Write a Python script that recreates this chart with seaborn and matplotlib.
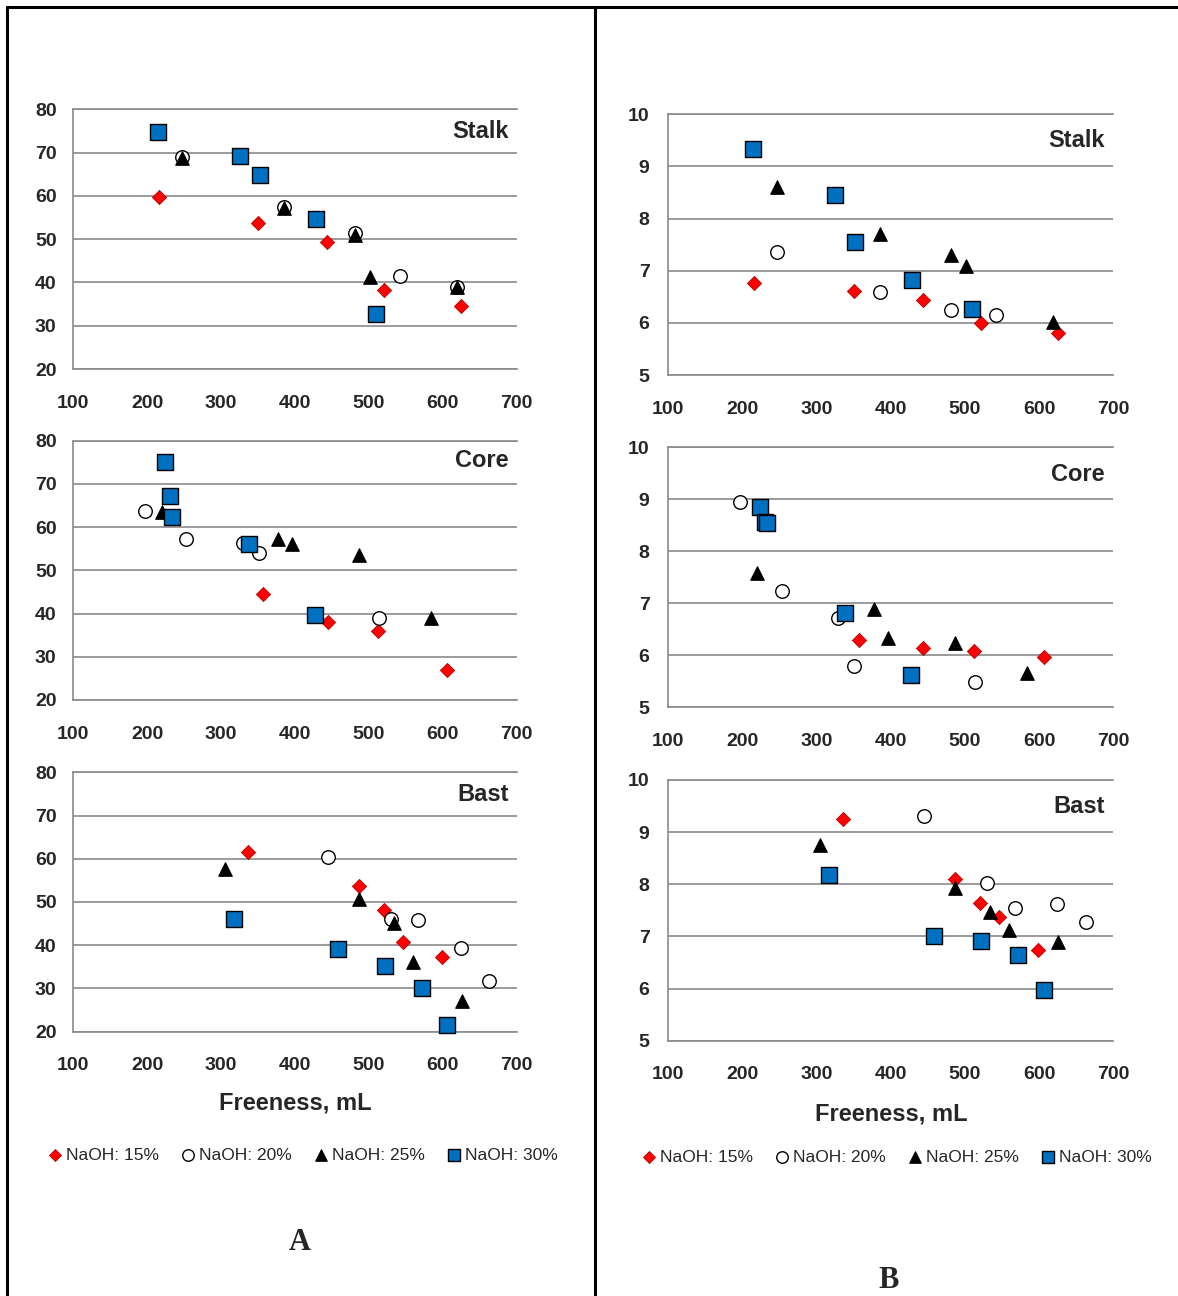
import matplotlib
matplotlib.use("Agg")
import matplotlib.pyplot as plt
from matplotlib.ticker import MultipleLocator
import seaborn as sns
import pandas as pd

# ---------------------------------------------------------------- data
naoh_labels = ["NaOH: 15%", "NaOH: 20%", "NaOH: 25%", "NaOH: 30%"]
materials = ["Stalk", "Core", "Bast"]

# freeness (mL) for each NaOH charge, shared by both property panels
stalk_freeness = [[216, 350, 443, 521, 625],
                  [247, 385, 481, 542, 619],
                  [247, 385, 481, 502, 619],
                  [214, 325, 352, 429, 509]]
core_freeness = [[357, 444, 512, 606],
                 [197, 253, 329, 351, 514],
                 [220, 377, 396, 486, 584],
                 [224, 231, 233, 338, 427]]
bast_freeness = [[336, 486, 520, 546, 599],
                 [445, 530, 567, 624, 663],
                 [305, 486, 534, 560, 626],
                 [317, 458, 522, 572, 606]]

# property shown in column A (scale 20-80)
stalk_a = [[59.8, 53.8, 49.3, 38.3, 34.5],
           [69.0, 57.4, 51.5, 41.5, 38.9],
           [68.8, 57.2, 51.0, 41.2, 39.0],
           [74.7, 69.1, 64.8, 54.6, 32.7]]
core_a = [[44.6, 38.1, 35.9, 27.0],
          [63.7, 57.3, 56.3, 53.9, 39.0],
          [63.6, 57.3, 56.1, 53.6, 38.9],
          [75.1, 67.3, 62.3, 56.1, 39.7]]
bast_a = [[61.6, 53.6, 48.1, 40.7, 37.3],
          [60.5, 46.1, 45.8, 39.4, 31.7],
          [57.6, 50.7, 45.1, 36.1, 27.1],
          [46.1, 39.1, 35.1, 30.2, 21.5]]

# property shown in column B (scale 5-10); the stalk 20% series has 4 points here
stalk_b = [[6.76, 6.61, 6.43, 6.00, 5.80],
           [7.35, 6.59, 6.24, 6.15],
           [8.60, 7.70, 7.30, 7.10, 6.02],
           [9.33, 8.45, 7.56, 6.83, 6.27]]
core_b = [[6.29, 6.15, 6.08, 5.96],
          [8.94, 7.23, 6.72, 5.79, 5.49],
          [7.58, 6.90, 6.33, 6.24, 5.66],
          [8.86, 8.56, 8.54, 6.81, 5.62]]
bast_b = [[9.26, 8.11, 7.64, 7.37, 6.74],
          [9.30, 8.02, 7.55, 7.62, 7.27],
          [8.75, 7.92, 7.46, 7.13, 6.90],
          [8.17, 7.00, 6.92, 6.65, 5.97]]

# ---------------------------------------------------------------- style
sns.set_style("white")
plt.rcParams["font.family"] = ["Liberation Sans", "DejaVu Sans"]

W, H = 1178, 1296
fig = plt.figure(figsize=(W / 100, H / 100), dpi=100)

GRID = "#8a8a8a"
series_style = [
    dict(marker="D", color="#ff0000", edgecolor="#b00000", s=52, linewidth=0.6),
    dict(marker="o", color="white", edgecolor="black", s=95, linewidth=1.0),
    dict(marker="^", color="black", edgecolor="black", s=95, linewidth=0.8),
    dict(marker="s", color="#0070c0", edgecolor="black", s=120, linewidth=1.0),
]


def make_frame(freeness, values):
    rows = []
    for lab, xs, ys in zip(naoh_labels, freeness, values):
        for x, y in zip(xs, ys):
            rows.append({"freeness": x, "value": y, "naoh": lab})
    return pd.DataFrame(rows)


def panel(box, freeness, values, name, ylim, ymajor, label_pos, ypad):
    left, top, right, bottom = box
    ax = fig.add_axes([left / W, 1 - bottom / H, (right - left) / W, (bottom - top) / H])
    df = make_frame(freeness, values)
    for lab, st in zip(naoh_labels, series_style):
        sub = df[df["naoh"] == lab]
        sns.scatterplot(data=sub, x="freeness", y="value", ax=ax, label=lab,
                        zorder=3, clip_on=False, **st)
    if ax.get_legend() is not None:
        ax.get_legend().remove()
    ax.set_xlim(100, 700)
    ax.set_ylim(*ylim)
    ax.xaxis.set_major_locator(MultipleLocator(100))
    ax.xaxis.set_minor_locator(MultipleLocator(50))
    ax.yaxis.set_major_locator(MultipleLocator(ymajor))
    ax.yaxis.set_minor_locator(MultipleLocator(ymajor / 2))
    ax.yaxis.grid(True, which="major", color=GRID, linewidth=1.2)
    ax.set_axisbelow(True)
    for side in ("left", "bottom", "top"):
        ax.spines[side].set_color(GRID)
        ax.spines[side].set_linewidth(1.2)
    ax.spines["right"].set_visible(False)
    ax.tick_params(axis="x", which="major", direction="inout", length=12, width=1.2,
                   color=GRID, pad=12.5, labelsize=14)
    ax.tick_params(axis="x", which="minor", direction="out", length=4, width=1.2, color=GRID)
    ax.tick_params(axis="y", which="major", direction="out", length=6, width=1.2,
                   color=GRID, pad=ypad, labelsize=14)
    ax.tick_params(axis="y", which="minor", direction="out", length=4, width=1.2, color=GRID)
    for t in ax.get_xticklabels() + ax.get_yticklabels():
        t.set_fontweight("bold")
    ax.set_xlabel("")
    ax.set_ylabel("")
    ax.text(label_pos[0], label_pos[1], name, transform=ax.transAxes, ha="right",
            va="center", fontsize=17, fontweight="bold")
    return ax


a_boxes = [(73.3, 109.3, 516.7, 369.0), (73.3, 440.7, 516.7, 700.0), (73.3, 772.3, 516.7, 1031.7)]
b_boxes = [(668.3, 114.3, 1113.3, 375.0), (668.3, 447.3, 1113.3, 707.3), (668.3, 780.0, 1113.3, 1040.7)]
all_freeness = [stalk_freeness, core_freeness, bast_freeness]
a_values = [stalk_a, core_a, bast_a]
b_values = [stalk_b, core_b, bast_b]
a_label_y = [0.916, 0.923, 0.916]
b_label_y = [0.898, 0.894, 0.900]

axes_a = []
for box, fr, vals, name, ly in zip(a_boxes, all_freeness, a_values, materials, a_label_y):
    axes_a.append(panel(box, fr, vals, name, (20, 80), 10, (0.982, ly), 6))
axes_b = []
for box, fr, vals, name, ly in zip(b_boxes, all_freeness, b_values, materials, b_label_y):
    axes_b.append(panel(box, fr, vals, name, (5, 10), 1, (0.98, ly), 7.5))

# axis titles below the bottom panels
fig.text(295 / W, 1 - 1103 / H, "Freeness, mL", ha="center", va="center",
         fontsize=17, fontweight="bold")
fig.text(891 / W, 1 - 1114 / H, "Freeness, mL", ha="center", va="center",
         fontsize=17, fontweight="bold")

# shared legends
handles, labels = axes_a[0].get_legend_handles_labels()
for cx, cy in ((302, 1155), (896, 1157)):
    fig.legend(handles, labels, loc="center", bbox_to_anchor=(cx / W, 1 - cy / H),
               ncol=4, frameon=False, fontsize=12.5, handletextpad=0.15,
               columnspacing=1.15, handlelength=1.0, markerscale=0.85)

# column captions
fig.text(300 / W, 1 - 1243 / H, "A", ha="center", va="center", fontsize=22,
         fontweight="bold", family=["Liberation Serif", "DejaVu Serif"])
fig.text(889 / W, 1 - 1280 / H, "B", ha="center", va="center", fontsize=22,
         fontweight="bold", family=["Liberation Serif", "DejaVu Serif"])

# table frame around the two columns
frame_kw = dict(color="black", linewidth=2.2, transform=fig.transFigure, clip_on=False)
fig.add_artist(plt.Line2D([6.5 / W, 1.0], [1 - 7 / H, 1 - 7 / H], **frame_kw))
fig.add_artist(plt.Line2D([6.5 / W, 6.5 / W], [0, 1 - 7 / H], **frame_kw))
fig.add_artist(plt.Line2D([594.5 / W, 594.5 / W], [0, 1 - 7 / H], **frame_kw))

fig.savefig("out.png", dpi=100)
